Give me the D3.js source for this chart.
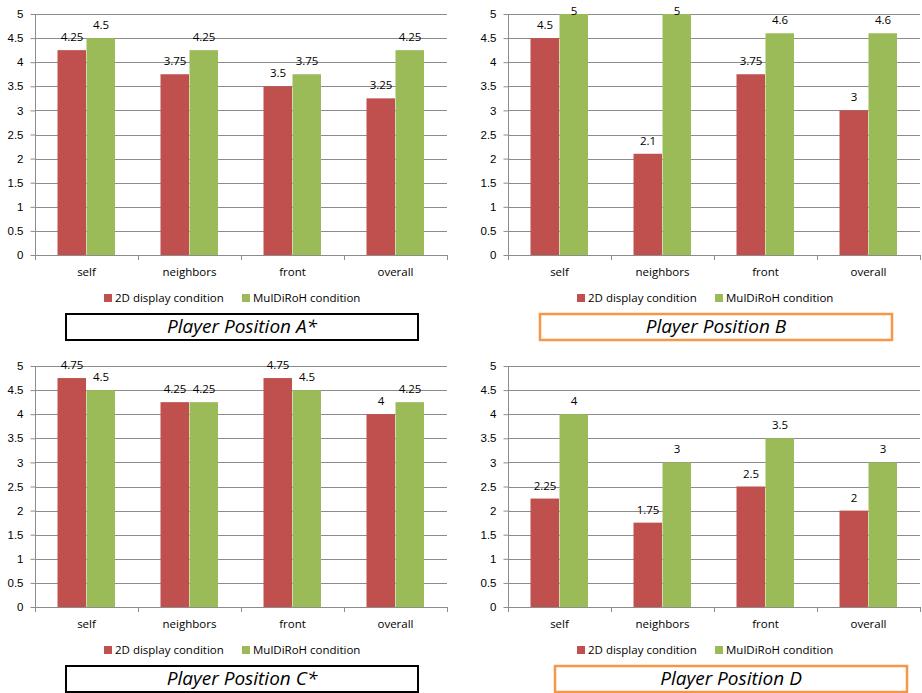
<!DOCTYPE html>
<html>
<head>
<meta charset="utf-8">
<script src="https://cdn.jsdelivr.net/npm/d3@7"></script>
<style>
    body { margin: 0; background: #fff; }
    svg { display: block; font-family: "Open Sans", sans-serif; }
    .grid line { stroke: #8c8c8c; stroke-width: 1px; }
    .axis path, .axis line { stroke: #8c8c8c; }
    .axis text { fill: #000; font-size: 11.5px; }
    .vlabel { font-size: 11.5px; fill: #000; text-anchor: middle; }
    .legend text { font-size: 11.5px; fill: #000; }
    .title { font-size: 19px; font-style: italic; text-anchor: middle; fill: #000; }
</style>
</head>
<body>
<div id="chart"></div>
<script>
var width = 922, height = 693;

// data
var categories = ["self", "neighbors", "front", "overall"];
var seriesNames = ["2D display condition", "MulDiRoH condition"];
var seriesColors = ["#C0504D", "#9BBB59"];
var yTicks = [0, 0.5, 1, 1.5, 2, 2.5, 3, 3.5, 4, 4.5, 5];

var posA2D = [4.25, 3.75, 3.5, 3.25];
var posAMul = [4.5, 4.25, 3.75, 4.25];
var posB2D = [4.5, 2.1, 3.75, 3];
var posBMul = [5, 5, 4.6, 4.6];
var posC2D = [4.75, 4.25, 4.75, 4];
var posCMul = [4.5, 4.25, 4.5, 4.25];
var posD2D = [2.25, 1.75, 2.5, 2];
var posDMul = [4, 3, 3.5, 3];

var titles = ["Player Position A*", "Player Position B", "Player Position C*", "Player Position D"];

// panel layout
var panels = [
    {left: 35, right: 447, top: 14, bottom: 255, a: posA2D, b: posAMul, title: titles[0], box: "#000", bx: 66},
    {left: 508, right: 920, top: 14, bottom: 255, a: posB2D, b: posBMul, title: titles[1], box: "#F79646", bx: 540},
    {left: 35, right: 447, top: 366, bottom: 607, a: posC2D, b: posCMul, title: titles[2], box: "#000", bx: 66},
    {left: 508, right: 920, top: 366, bottom: 607, a: posD2D, b: posDMul, title: titles[3], box: "#F79646", bx: 555}
];

var svg = d3.select("#chart").append("svg")
    .attr("width", width)
    .attr("height", height);

panels.forEach(function(p) {
    var g = svg.append("g");

    var y = d3.scaleLinear().domain([0, 5]).range([p.bottom, p.top]);
    var x0 = d3.scaleBand().domain(categories).range([p.left, p.right]);
    var bw = x0.bandwidth();
    var x1 = d3.scaleBand().domain([0, 1]).range([bw / 2 - 29, bw / 2 + 29]);

    // gridlines
    g.append("g")
        .attr("class", "grid")
        .selectAll("line")
        .data(yTicks.slice(1))
        .enter().append("line")
        .attr("x1", p.left)
        .attr("x2", p.right)
        .attr("y1", function(d) { return Math.round(y(d)) + 0.5; })
        .attr("y2", function(d) { return Math.round(y(d)) + 0.5; });

    // y axis
    g.append("g")
        .attr("class", "axis")
        .attr("transform", "translate(" + (p.left + 0.5) + ",0)")
        .call(d3.axisLeft(y).tickValues(yTicks).tickSize(5).tickPadding(7).tickFormat(d3.format("")))
        .call(function(s) { s.select(".domain").attr("d", "M0," + p.top + "V" + p.bottom); });

    // bars
    var data = [p.a, p.b];
    data.forEach(function(vals, si) {
        g.selectAll(".bar" + si)
            .data(vals)
            .enter().append("rect")
            .attr("x", function(d, i) { return x0(categories[i]) + x1(si); })
            .attr("y", function(d) { return y(d); })
            .attr("width", x1.bandwidth() - 0.5)
            .attr("height", function(d) { return p.bottom - y(d); })
            .attr("fill", seriesColors[si]);

        // value labels, kept inside the plot area like Excel does
        g.selectAll(".lab" + si)
            .data(vals)
            .enter().append("text")
            .attr("class", "vlabel")
            .attr("x", function(d, i) { return x0(categories[i]) + x1(si) + x1.bandwidth() / 2; })
            .attr("y", function(d) { return Math.max(y(d) - 9, p.top + 1); })
            .text(function(d) { return d; });
    });

    // x axis
    var xa = g.append("g").attr("class", "axis");
    xa.append("line")
        .attr("x1", p.left).attr("x2", p.right)
        .attr("y1", p.bottom + 0.5).attr("y2", p.bottom + 0.5);
    xa.selectAll(".xt")
        .data(categories.concat(["end"]))
        .enter().append("line")
        .attr("x1", function(d, i) { return p.left + i * bw + 0.5; })
        .attr("x2", function(d, i) { return p.left + i * bw + 0.5; })
        .attr("y1", p.bottom)
        .attr("y2", p.bottom + 5);
    xa.selectAll("text")
        .data(categories)
        .enter().append("text")
        .attr("x", function(d) { return x0(d) + bw / 2; })
        .attr("y", p.bottom + 21)
        .attr("text-anchor", "middle")
        .text(function(d) { return d; });

    // legend
    var lg = g.append("g").attr("class", "legend")
        .attr("transform", "translate(" + (p.left + 69) + "," + (p.bottom + 43) + ")");
    var offs = [0, 138];
    seriesNames.forEach(function(n, i) {
        lg.append("rect")
            .attr("x", offs[i]).attr("y", -4)
            .attr("width", 8).attr("height", 8)
            .attr("fill", seriesColors[i]);
        lg.append("text")
            .attr("x", offs[i] + 11).attr("y", 4)
            .text(n);
    });

    // title box
    g.append("rect")
        .attr("x", p.bx).attr("y", p.bottom + 59)
        .attr("width", 352).attr("height", 26)
        .attr("fill", "none")
        .attr("stroke", p.box)
        .attr("stroke-width", p.box == "#000" ? 2 : 2.5);
    g.append("text")
        .attr("class", "title")
        .attr("x", p.bx + 176)
        .attr("y", p.bottom + 78)
        .text(p.title);
});
</script>
</body>
</html>
